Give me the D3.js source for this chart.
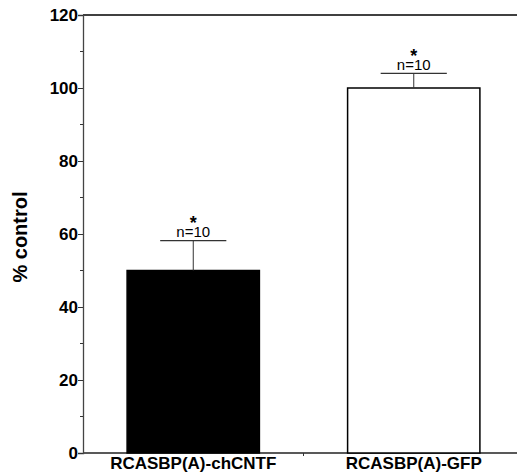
<!DOCTYPE html>
<html>
<head>
<meta charset="utf-8">
<script src="https://cdn.jsdelivr.net/npm/d3@7"></script>
<style>
  body { margin: 0; background: #fff; }
  text { font-family: "Liberation Sans", Arial, sans-serif; }
</style>
</head>
<body>
<svg id="chart" width="518" height="473"></svg>
<script>
// data
const groups = ['RCASBP(A)-chCNTF', 'RCASBP(A)-GFP'];
const means = [50, 100];
const errTops = [58.2, 104];
const nLabels = ['n=10', 'n=10'];
const fills = ['#000', '#fff'];
const yTicks = [0, 20, 40, 60, 80, 100, 120];
const yMinor = [10, 30, 50, 70, 90, 110];

const svg = d3.select('#chart');
const mLeft = 83, mRight = 517, mTop = 15, mBottom = 453;

const y = d3.scaleLinear().domain([0, 120]).range([mBottom, mTop]);
const x = d3.scaleBand().domain(groups).range([mLeft, 524])
  .paddingInner(0.4).paddingOuter(0.2);

// frame lines: top and bottom
svg.append('line').attr('x1', mLeft).attr('x2', mRight).attr('y1', mTop).attr('y2', mTop)
  .attr('stroke', '#000').attr('stroke-width', 1.3);
svg.append('line').attr('x1', mLeft).attr('x2', mRight).attr('y1', mBottom).attr('y2', mBottom)
  .attr('stroke', '#222').attr('stroke-width', 1.3);

// y axis
const yAxis = svg.append('g').attr('transform', `translate(${mLeft},0)`)
  .call(d3.axisLeft(y).tickValues(yTicks).tickSize(5).tickPadding(0));
yAxis.select('.domain').attr('stroke', '#444').attr('stroke-width', 1.3);
yAxis.selectAll('.tick line').attr('stroke', '#333');
yAxis.selectAll('.tick text')
  .style('font-size', '17px').style('font-weight', 'bold')
  .attr('fill', '#000');
yAxis.selectAll('.minor').data(yMinor).enter().append('line')
  .attr('x1', -3).attr('x2', 0)
  .attr('y1', d => y(d)).attr('y2', d => y(d))
  .attr('stroke', '#333');

// tick between the two groups on the bottom axis
const mid = (x(groups[0]) + x(groups[1]) + x.bandwidth()) / 2;
svg.append('line').attr('x1', mid).attr('x2', mid).attr('y1', mBottom).attr('y2', mBottom + 3)
  .attr('stroke', '#333');

// bars
svg.selectAll('.bar').data(groups).enter().append('rect')
  .attr('x', d => x(d))
  .attr('y', (d, i) => y(means[i]))
  .attr('width', x.bandwidth())
  .attr('height', (d, i) => y(0) - y(means[i]))
  .attr('fill', (d, i) => fills[i])
  .attr('stroke', '#000')
  .attr('stroke-width', 1.5);

// error bars
const cx = d => x(d) + x.bandwidth() / 2;
const capW = x.bandwidth() / 2;
svg.selectAll('.stem').data(groups).enter().append('line')
  .attr('x1', cx).attr('x2', cx)
  .attr('y1', (d, i) => y(means[i])).attr('y2', (d, i) => y(errTops[i]))
  .attr('stroke', '#333').attr('stroke-width', 1);
svg.selectAll('.cap').data(groups).enter().append('line')
  .attr('x1', d => cx(d) - capW / 2).attr('x2', d => cx(d) + capW / 2)
  .attr('y1', (d, i) => y(errTops[i])).attr('y2', (d, i) => y(errTops[i]))
  .attr('stroke', '#333').attr('stroke-width', 1.2);

// n labels and asterisks
svg.selectAll('.n').data(groups).enter().append('text')
  .attr('x', cx).attr('y', (d, i) => y(errTops[i]) - 3.5)
  .attr('text-anchor', 'middle')
  .style('font-size', '15px')
  .text((d, i) => nLabels[i]);
svg.selectAll('.star').data(groups).enter().append('text')
  .attr('x', cx).attr('y', (d, i) => y(errTops[i]) - 11.5)
  .attr('text-anchor', 'middle')
  .style('font-size', '18px').style('font-weight', 'bold')
  .text('*');

// category labels
svg.selectAll('.cat').data(groups).enter().append('text')
  .attr('x', cx).attr('y', 469)
  .attr('text-anchor', 'middle')
  .style('font-size', '17px').style('font-weight', 'bold')
  .text(d => d);

// y title
svg.append('text')
  .attr('transform', `translate(27,${(mTop + mBottom) / 2 + 3}) rotate(-90)`)
  .attr('text-anchor', 'middle')
  .style('font-size', '20px').style('font-weight', 'bold')
  .text('% control');
</script>
</body>
</html>
